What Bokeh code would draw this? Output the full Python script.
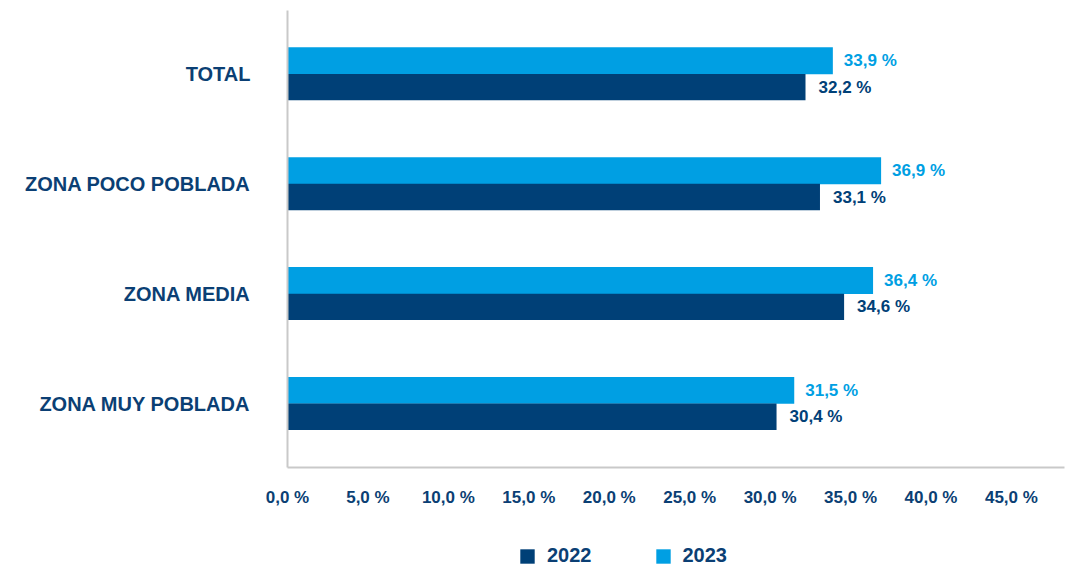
from bokeh.plotting import figure
from bokeh.layouts import column
from bokeh.models import (ColumnDataSource, FactorRange, Range1d, FixedTicker,
                          Legend, LegendItem)
from bokeh.transform import dodge
from bokeh.core.properties import value
from bokeh.embed import file_html
from bokeh.resources import INLINE

# ---- data ----
categories = ["TOTAL", "ZONA POCO POBLADA", "ZONA MEDIA", "ZONA MUY POBLADA"]
values_2022 = [32.2, 33.1, 34.6, 30.4]
values_2023 = [33.9, 36.9, 36.4, 31.5]
series_names = ["2022", "2023"]
x_ticks = [0, 5, 10, 15, 20, 25, 30, 35, 40, 45]

def fmt(v):
    return f"{v:.1f}".replace(".", ",") + " %"

DARK = "#004077"
LIGHT = "#009FE3"
TEXT = "#0B3F74"
GRAY = "#C9C9C9"
FONT = "Liberation Sans"

source = ColumnDataSource(dict(
    cat=categories,
    v2022=values_2022,
    v2023=values_2023,
    l2022=[fmt(v) for v in values_2022],
    l2023=[fmt(v) for v in values_2023],
))

factors = list(reversed(categories))
p = figure(width=1065, height=530, output_backend="svg", toolbar_location=None,
           y_range=FactorRange(factors=factors, range_padding=0.04,
                               range_padding_units="percent"),
           x_range=Range1d(0, 48.3),
           min_border_left=287, min_border_top=10, min_border_bottom=63,
           min_border_right=1)
p.outline_line_color = None
p.grid.grid_line_color = None
p.background_fill_color = "white"
p.border_fill_color = "white"

r23 = p.hbar(y=dodge("cat", 0.122, range=p.y_range), right="v2023", left=0,
             height=0.245, source=source, fill_color=LIGHT, line_color=None)
r22 = p.hbar(y=dodge("cat", -0.118, range=p.y_range), right="v2022", left=0,
             height=0.24, source=source, fill_color=DARK, line_color=None)

p.text(x="v2023", y=dodge("cat", 0.122, range=p.y_range), text="l2023",
       source=source, x_offset=11, text_baseline="middle", text_align="left",
       text_color=LIGHT, text_font=value(FONT), text_font_size="17px",
       text_font_style="bold")
p.text(x="v2022", y=dodge("cat", -0.118, range=p.y_range), text="l2022",
       source=source, x_offset=13, text_baseline="middle", text_align="left",
       text_color=DARK, text_font=value(FONT), text_font_size="17px",
       text_font_style="bold")

# x axis
xa = p.xaxis[0]
xa.ticker = FixedTicker(ticks=x_ticks)
xa.major_label_overrides = {t: fmt(t) for t in x_ticks}
xa.major_tick_line_color = None
xa.minor_tick_line_color = None
xa.axis_line_color = GRAY
xa.axis_line_width = 2
xa.major_label_standoff = 14
xa.major_label_text_font = FONT
xa.major_label_text_font_size = "17px"
xa.major_label_text_font_style = "bold"
xa.major_label_text_color = TEXT

# y axis
ya = p.yaxis[0]
ya.major_tick_line_color = None
ya.minor_tick_line_color = None
ya.axis_line_color = GRAY
ya.axis_line_width = 2
ya.major_label_standoff = 31
ya.major_label_text_font = FONT
ya.major_label_text_font_size = "20px"
ya.major_label_text_font_style = "bold"
ya.major_label_text_color = TEXT

# ---- legend strip below the chart ----
# The strip's x range is 0..1, so these series bars (at ~30..37) fall outside
# its frame; they only serve as legend swatches.
lg = figure(width=1065, height=37, output_backend="svg", toolbar_location=None,
            x_range=Range1d(0, 1), y_range=Range1d(0, 1),
            x_axis_location=None, y_axis_location=None,
            min_border_left=0, min_border_right=0, min_border_top=0,
            min_border_bottom=0)
lg.outline_line_color = None
lg.grid.grid_line_color = None
q22 = lg.quad(left="v2022", right="v2023", bottom=0, top=1, source=source,
              fill_color=DARK, line_color=None)
q23 = lg.quad(left="v2022", right="v2023", bottom=0, top=1, source=source,
              fill_color=LIGHT, line_color=None)

legend = Legend(items=[LegendItem(label=series_names[0], renderers=[q22]),
                       LegendItem(label=series_names[1], renderers=[q23])],
                location=(231, 0), orientation="horizontal",
                glyph_width=18, glyph_height=18, label_standoff=11,
                spacing=62, padding=0, margin=0,
                border_line_color=None, background_fill_alpha=0,
                label_text_font=FONT, label_text_font_size="20px",
                label_text_font_style="bold", label_text_color=TEXT)
lg.add_layout(legend, "center")

layout = column(p, lg, spacing=0)
open("out.html", "w").write(file_html(layout, INLINE))
